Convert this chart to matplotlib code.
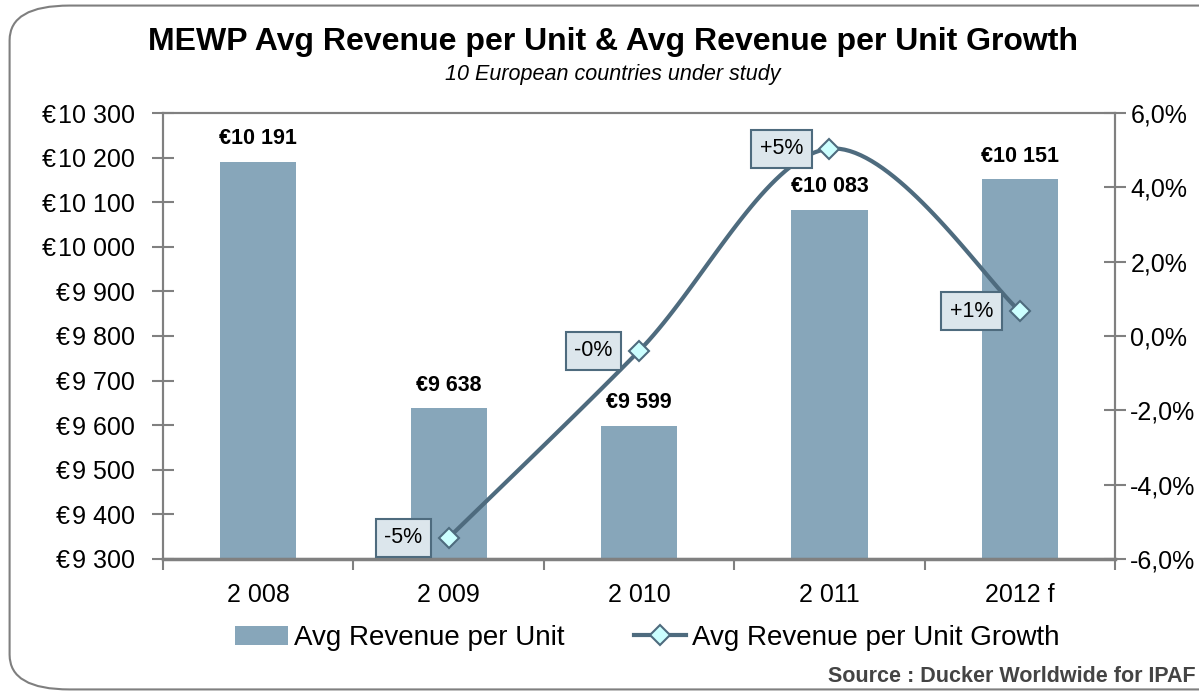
import numpy as np
import matplotlib.pyplot as plt
from matplotlib.patches import FancyBboxPatch
from matplotlib.ticker import FuncFormatter

plt.rcParams['font.family'] = ['Liberation Sans', 'DejaVu Sans']

years = ['2 008', '2 009', '2 010', '2 011', '2012 f']
revenue = [10191, 9638, 9599, 10083, 10151]
growth_x = [1, 2, 3, 4]
growth = [-5.43, -0.40, 5.04, 0.67]
growth_labels = ['-5%', '-0%', '+5%', '+1%']
rev_labels = ['€10 191', '€9 638', '€9 599', '€10 083', '€10 151']

bar_col = '#87a6ba'
line_col = '#4e6b7e'
axis_col = '#808080'


def catmull(xs, ys, n=40):
    # smoothed line like the spreadsheet one
    px = [xs[0]] + list(xs) + [xs[-1]]
    py = [ys[0]] + list(ys) + [ys[-1]]
    ox, oy = [], []
    for i in range(1, len(px) - 2):
        t = np.linspace(0, 1, n)
        for p, o in ((px, ox), (py, oy)):
            p0, p1, p2, p3 = p[i - 1], p[i], p[i + 1], p[i + 2]
            o.extend(0.5 * (2 * p1 + (-p0 + p2) * t
                            + (2 * p0 - 5 * p1 + 4 * p2 - p3) * t ** 2
                            + (-p0 + 3 * p1 - 3 * p2 + p3) * t ** 3))
    return ox, oy


fig = plt.figure(figsize=(11.99, 6.95), dpi=100)
fig.patches.append(FancyBboxPatch((0.008, 0.008), 1.2, 0.984,
                                  boxstyle='round,pad=0,rounding_size=0.05',
                                  transform=fig.transFigure, fc='white',
                                  ec='#7f7f7f', lw=1.5, zorder=-1))

ax = fig.add_axes([0.136, 0.1957, 0.794, 0.6417])
ax.patch.set_alpha(0)
x = np.arange(len(years))
bars = ax.bar(x, revenue, width=0.4, color=bar_col, zorder=2,
              label='Avg Revenue per Unit')
ax.set_xlim(-0.5, 4.5)
ax.set_ylim(9300, 10300)
ax.set_yticks(np.arange(9300, 10301, 100))
ax.yaxis.set_major_formatter(FuncFormatter(
    lambda v, p: '€\u200a' + f'{int(v):,}'.replace(',', ' ')))
ax.set_xticks(x)
ax.set_xticklabels(years)
ax.set_xticks(np.arange(-0.5, 4.6, 1), minor=True)
ax.tick_params(axis='x', which='major', length=0, labelsize=18, pad=17)
ax.tick_params(axis='x', which='minor', length=8, width=1.5, color=axis_col)
ax.tick_params(axis='y', direction='inout', length=16, width=1.5,
               color=axis_col, labelsize=18, pad=12)
for s in ax.spines.values():
    s.set_color(axis_col)
    s.set_linewidth(1.5)
ax.spines['bottom'].set_linewidth(2.5)

for xi, v, t in zip(x, revenue, rev_labels):
    ax.text(xi, v + 28, t, ha='center', va='bottom', fontsize=15.5,
            fontweight='bold')

ax2 = ax.twinx()
ax2.set_ylim(-6, 6)
ax2.set_yticks(np.arange(-6, 6.1, 2))
ax2.yaxis.set_major_formatter(FuncFormatter(
    lambda v, p: f'{v:.1f}%'.replace('.', ',')))
ax2.tick_params(axis='y', direction='inout', length=16, width=1.5,
                color=axis_col, labelsize=18, pad=3)
for s in ax2.spines.values():
    s.set_color(axis_col)
    s.set_linewidth(1.5)

sx, sy = catmull(growth_x, growth)
ax2.plot(sx, sy, color=line_col, lw=3, zorder=3)
ax2.plot(growth_x, growth, ls='none', marker='D', ms=10, mfc='#ccffff',
         mec=line_col, mew=1.5, zorder=4)
for gx, gy, t in zip(growth_x, growth, growth_labels):
    ax2.annotate(t, (gx, gy), xytext=(-19, 0), textcoords='offset points',
                 ha='right', va='center', fontsize=15.5, zorder=5,
                 bbox=dict(boxstyle='square,pad=0.4', fc='#dce6ec',
                           ec=line_col, lw=1.5))

h_line = plt.Line2D([], [], color=line_col, lw=3, marker='D', ms=10,
                    mfc='#ccffff', mec=line_col, mew=1.5)
fig.legend([bars, h_line], ['Avg Revenue per Unit', 'Avg Revenue per Unit Growth'],
           loc='center', bbox_to_anchor=(0.54, 0.082), ncol=2, frameon=False,
           fontsize=20, handlelength=1.9, columnspacing=2.5, handletextpad=0.2)

fig.text(0.511, 0.94, 'MEWP Avg Revenue per Unit & Avg Revenue per Unit Growth',
         ha='center', va='center', fontsize=23, fontweight='bold')
fig.text(0.511, 0.893, '10 European countries under study', ha='center',
         va='center', fontsize=15.5, style='italic')
fig.text(0.997, 0.026, 'Source : Ducker Worldwide for IPAF', ha='right',
         va='center', fontsize=15.5, fontweight='bold', color='#444444')

fig.savefig('out.png', dpi=100)
